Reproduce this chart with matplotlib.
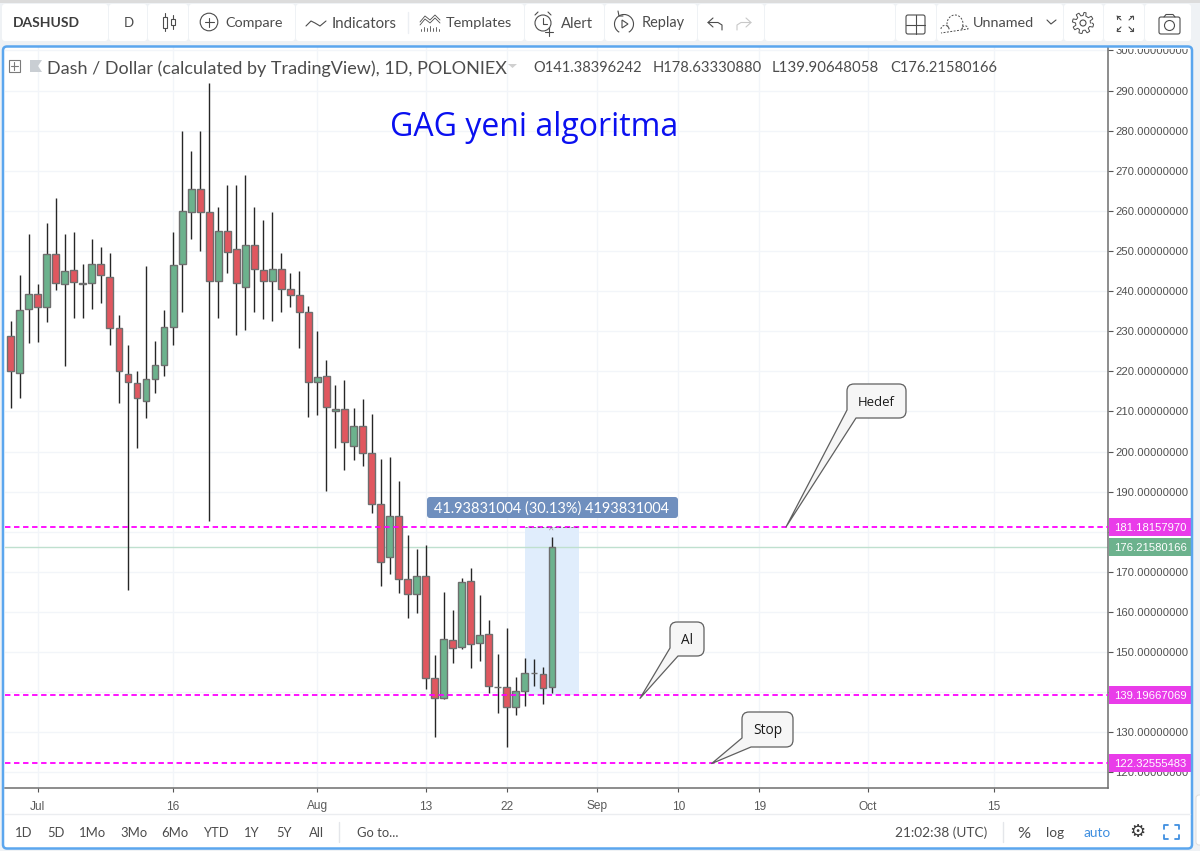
import matplotlib
matplotlib.use("Agg")
import matplotlib.pyplot as plt
import numpy as np
from matplotlib.patches import Rectangle, FancyBboxPatch, Circle, PathPatch, Polygon, Arc
from matplotlib.path import Path

# ---------- data ----------
first_day = -3   # days relative to 1 Jul
opens = [228.8,219.6,235.6,239.3,236.1,249.2,241.7,245.3,241.7,241.9,246.7,243.5,230.7,219.4,217.2,212.5,218.1,221.7,231.1,246.7,
         259.7,265.5,259.7,242.4,255.0,250.5,241.1,251.6,245.3,242.4,245.6,240.6,239.0,234.9,217.3,218.8,210.0,210.5,201.5,206.3,
         199.7,187.0,173.8,183.9,168.2,164.55,169.0,143.6,138.6,153.0,151.2,167.7,152.2,154.6,141.4,141.4,136.2,140.2,144.8,144.6,141.38]
highs = [232.5,244.1,254.3,241.7,256.9,263.3,254.3,254.8,246.8,253.0,250.9,249.6,234.1,226.5,220.2,246.3,227.5,235.2,254.8,279.8,
         274.9,279.8,291.8,261.0,266.4,266.4,269.0,260.9,257.7,259.8,249.4,244.4,244.9,236.3,230.0,222.8,216.7,217.8,210.8,213.2,
         209.3,198.1,198.7,192.6,179.2,175.6,176.7,149.2,164.9,160.5,168.5,170.9,164.3,158.0,149.4,155.9,143.8,148.6,148.3,146.2,178.63]
lows = [210.9,213.25,227.0,227.4,232.2,240.3,221.4,233.2,233.4,235.6,237.1,226.6,212.0,165.5,200.9,208.3,214.5,218.8,226.6,234.8,
        252.9,249.9,182.7,233.4,244.4,229.0,230.3,234.8,233.0,232.6,234.7,236.1,225.9,208.5,209.1,190.2,201.0,195.4,198.0,196.5,
        184.7,166.4,169.4,164.6,158.4,159.8,140.9,128.9,138.3,147.2,150.7,145.9,147.7,139.8,134.7,126.2,134.3,136.6,141.6,137.0,139.91]
closes = [220.1,235.4,239.3,236.1,249.2,241.9,245.1,242.3,241.9,246.7,244.0,230.7,220.1,217.4,213.25,218.1,221.7,231.1,246.4,260.0,
          265.5,259.7,242.4,255.0,249.8,241.9,251.6,245.4,242.4,245.6,240.6,239.0,234.9,217.3,218.5,211.0,210.5,202.3,206.3,199.7,
          186.9,172.4,183.9,168.2,164.5,169.0,143.6,138.6,153.2,150.9,167.5,152.0,154.3,141.5,141.2,136.2,140.2,144.8,144.9,141.1,176.22]
price_ticks = list(range(120, 301, 10))
hidden_tick_labels = [140, 180]   # covered by the price tags in the reference
date_tick_days = [0, 15, 31, 43, 52, 62, 71, 80, 92, 106]
date_tick_labels = ["Jul", "16", "Aug", "13", "22", "Sep", "10", "19", "Oct", "15"]
level_prices = [181.18157970, 139.19667069, 122.32555483]
last_price = 176.21580166
range_days = [54, 60]
range_prices = [139.19667069, 181.18157970]

RED, GREEN, EDGE = "#e0575f", "#6cb28d", "#6e6e6e"
MAG = "#ff00ff"
TXT = "#4c4c4c"
SANS = "Lato"
AXF = "Liberation Sans"

W, H = 1200, 851
fig = plt.figure(figsize=(W/100, H/100), dpi=100)
fig.patch.set_facecolor("#eff2f5")

# ---------- background ----------
bg = fig.add_axes([0, 0, 1, 1], zorder=0)
bg.set_xlim(0, W); bg.set_ylim(H, 0); bg.axis("off")
bg.add_patch(FancyBboxPatch((4, 47), 1187, 801, boxstyle="round,pad=0,rounding_size=4", fc="white", ec="none"))

# ---------- price chart ----------
ax = fig.add_axes([5/W, 1-788/H, 1103/W, 741/H], zorder=1)
ax.set_facecolor("none")
ax.set_xlim(-3.63, 118.63)
ax.set_ylim(116.1, 300.87)
days = np.arange(first_day, first_day + len(opens))
o, h, l, c = map(np.array, (opens, highs, lows, closes))
up = c >= o
ax.vlines(days, l, h, color="#262626", lw=1.0, zorder=3)
ax.bar(days, np.abs(c-o), bottom=np.minimum(o, c), width=0.76,
       color=np.where(up, GREEN, RED), edgecolor=EDGE, linewidth=1.0, zorder=4)
ax.axvspan(range_days[0], range_days[1], ymin=(range_prices[0]-116.1)/184.77, ymax=(range_prices[1]-116.1)/184.77,
           facecolor="#e0edfc", edgecolor="none", zorder=1)
ax.axhline(last_price, color="#bfe0cf", lw=1.0, zorder=2)
for p in level_prices:
    ax.axhline(p, color=MAG, lw=1.3, dashes=(3, 2), zorder=5)
ax.set_yticks(price_ticks)
ax.set_yticklabels(["" if t in hidden_tick_labels else f"{t:.8f}" for t in price_ticks],
                   fontfamily=AXF, fontsize=8.1, color="#505050")
ax.set_xticks(date_tick_days)
ax.set_xticklabels(date_tick_labels, fontfamily=AXF, fontsize=8.6, color="#5a5a5a")
ax.yaxis.tick_right()
ax.tick_params(axis="y", length=3.5, width=0.8, color="#555555", pad=1.8)
ax.tick_params(axis="x", length=3, width=0.8, color="#555555", pad=6)
ax.grid(True, color="#f2f5f9", lw=1.0, zorder=0)
ax.set_axisbelow(True)
for s in ("top", "left"):
    ax.spines[s].set_visible(False)
for s in ("right", "bottom"):
    ax.spines[s].set_color("#6e6e6e"); ax.spines[s].set_linewidth(1.1)

# ---------- overlay (pixel coordinates) ----------
ov = fig.add_axes([0, 0, 1, 1], zorder=2)
ov.set_xlim(0, W); ov.set_ylim(H, 0); ov.axis("off"); ov.patch.set_alpha(0)
fig.canvas.draw()
rend = fig.canvas.get_renderer()

def yp(price):
    return H - ax.transData.transform((0, price))[1]
def xp(day):
    return ax.transData.transform((day, 0))[0]

def fit(x0, x1, yc, s, color=TXT, family=SANS, weight="normal"):
    t = ov.text(x0, yc, s, ha="left", va="center_baseline", color=color, family=family, weight=weight, fontsize=10)
    w = t.get_window_extent(rend).width
    t.set_fontsize(10*(x1-x0)/w)
    return t

def line(xs, ys, color=TXT, lw=0.8, **kw):
    ov.plot(xs, ys, color=color, lw=lw, solid_capstyle="round", **kw)

# toolbar
ov.add_patch(Rectangle((0, 0), W, 46, fc="#eff2f5", ec="none"))
ov.add_patch(Rectangle((0, 0), W, 2.5, fc="#dcdcdc", ec="none"))
ov.add_patch(Rectangle((1109, 46), 81, 2.5, fc="white", ec="none"))
cells = [(2,108),(109,147),(148,188),(189,295),(296,524),(525,604),(605,697),(698,764),(765,895),(896,936),(937,1063),(1064,1103),(1104,1144),(1145,1191)]
for a, b in cells:
    ov.add_patch(FancyBboxPatch((a, 4), b-a, 37, boxstyle="round,pad=0,rounding_size=3", fc="white", ec="none"))
line([408, 408], [12, 33], color="#eceff3", lw=1)

fit(13, 80, 22, "DASHUSD", weight="bold", color="#3d3d3d")
fit(124, 134, 22, "D")
# candle icon
for cx, t0, t1, b0, b1 in ((165, 13, 31, 17, 28), (173, 15, 29, 19, 25)):
    line([cx, cx], [t0, b0]); line([cx, cx], [b1, t1])
    ov.add_patch(Rectangle((cx-2, b0), 4, b1-b0, fc="none", ec=TXT, lw=0.8))
# compare
ov.add_patch(Circle((209, 22), 8.8, fc="none", ec=TXT, lw=0.8))
line([204.5, 213.5], [22, 22]); line([209, 209], [17.5, 26.5])
fit(225, 283, 22, "Compare")
# indicators
line([306, 311, 315, 320, 326], [26, 21, 23, 26, 21])
fit(332, 397, 22, "Indicators")
# templates
line([420, 425, 430, 435, 440], [22, 16, 20, 15, 20], lw=0.6)
line([420, 425, 430, 435, 440], [25, 19, 23, 18, 23], lw=0.6)
for i, hh in enumerate([2, 4, 3, 5, 3, 4, 2]):
    line([421+i*3, 421+i*3], [31-hh, 31], lw=0.6)
fit(446, 512, 22, "Templates")
# alert
ov.add_patch(Circle((543, 23), 8, fc="none", ec=TXT, lw=0.8))
line([543, 543, 547], [18, 24, 24]); line([549, 549], [27, 36]); line([545, 553], [31.5, 31.5])
line([535, 538], [15, 12]); line([548, 551], [12, 15])
fit(561, 593, 22, "Alert")
# replay
ov.add_patch(Arc((624, 24), 19, 19, theta1=-240, theta2=60, ec=TXT, lw=0.8))
line([618, 619, 623], [11, 16, 16]); ov.add_patch(Polygon([(622, 20), (622, 28), (628, 24)], fc="none", ec=TXT, lw=0.8))
fit(642, 685, 22, "Replay")
# undo / redo
line([713, 708, 713], [18, 22.5, 27]); line([708, 718, 722, 722], [22.5, 22.5, 25, 30])
line([746, 751, 746], [18, 22.5, 27], color="#c8c8c8"); line([751, 741, 737, 737], [22.5, 22.5, 25, 30], color="#c8c8c8")
# layout
ov.add_patch(FancyBboxPatch((906, 15), 19, 19, boxstyle="round,pad=0,rounding_size=2", fc="none", ec=TXT, lw=0.8))
line([915.5, 915.5], [15, 34]); line([906, 925], [24.5, 24.5])
# cloud
th = np.linspace(np.pi, 0, 40)
cx_ = np.r_[944+4*np.cos(th)+1, 955+8*np.cos(th), 965+3*np.cos(th)]
cy_ = np.r_[29+4*np.sin(-th)*0.9, 24+9*np.sin(-th), 29+4*np.sin(-th)*0.8]
ov.plot(np.r_[cx_, cx_[0]], np.r_[cy_, 33], color=TXT, lw=0.7, ls=(0, (2, 1.5)))
fit(973, 1034, 22, "Unnamed")
line([1047, 1051, 1056], [20, 24, 20])
# gear
ang = np.linspace(0, 2*np.pi, 65)
rad = 9 + 1.6*np.sign(np.sin(8*ang))
ov.plot(1083+rad*np.cos(ang), 23+rad*np.sin(ang), color=TXT, lw=0.7)
ov.add_patch(Circle((1083, 23), 3, fc="none", ec=TXT, lw=0.8))
# fullscreen
for (x, y, dx, dy) in ((1117, 16, 1, 1), (1133, 16, -1, 1), (1117, 31, 1, -1), (1133, 31, -1, -1)):
    line([x+dx*4, x], [y+dy*4, y], lw=0.8)
    line([x+dx*3, x, x], [y, y, y+dy*3], lw=0.8)
# camera
ov.add_patch(FancyBboxPatch((1159, 17), 21, 17, boxstyle="round,pad=0,rounding_size=2", fc="none", ec=TXT, lw=0.8))
ov.add_patch(Circle((1169.5, 25.5), 5, fc="none", ec=TXT, lw=0.8))
line([1164, 1166, 1173, 1175], [17, 14.5, 14.5, 17])

# legend row
ov.add_patch(Rectangle((8.5, 60), 11, 11.5, fc="none", ec="#7a7a7a", lw=0.8))
line([10.5, 17.5], [65.7, 65.7], color="#7a7a7a"); line([14, 14], [62, 69.5], color="#7a7a7a")
ov.add_patch(Polygon([(30, 60), (42, 60), (38, 66), (42, 72), (30, 72)], fc="#c9ced3", ec="none"))
fit(47, 504, 67, "Dash / Dollar (calculated by TradingView), 1D, POLONIEX")
ov.add_patch(Polygon([(508, 64), (517, 64), (512.5, 68)], fc="#d0d0d0", ec="none"))
for x0, x1, s in ((533, 642, "O141.38396242"), (653, 761.5, "H178.63330880"), (772, 878.6, "L139.90648058"), (890, 997, "C176.21580166")):
    fit(x0, x1, 67, s)

# title
fit(390, 678, 123, "GAG yeni algoritma", color="#0a10f0", family="Open Sans")

# measure label
ov.add_patch(FancyBboxPatch((427, 497), 251, 21, boxstyle="round,pad=0,rounding_size=3", fc="#6f8fbe", ec="none"))
fit(434, 670, 507.5, "41.93831004 (30.13%) 4193831004", color="white")
ov.plot([xp(range_days[0]), xp(range_days[1])], [yp(range_prices[1])]*2, color="#555555", lw=0.5, ls=(0, (3, 3)))
line([549.5, 551], [530, 528], color="#999999", lw=0.5); line([551.5, 553], [528, 530], color="#999999", lw=0.5)

# callouts
def callout(x0, x1, y0, y1, b0, b1, tip, label, tx0, tx1, ty):
    r = 7
    verts = [(x0+r, y0), (x1-r, y0), (x1, y0), (x1, y0+r), (x1, y1-r), (x1, y1), (x1-r, y1),
             b1, tip, b0, (x0, y0+r), (x0, y0), (x0+r, y0)]
    codes = [Path.MOVETO, Path.LINETO, Path.CURVE3, Path.CURVE3, Path.LINETO, Path.CURVE3, Path.CURVE3,
             Path.LINETO, Path.LINETO, Path.LINETO, Path.LINETO, Path.CURVE3, Path.CURVE3]
    ov.add_patch(PathPatch(Path(verts, codes), fc="#f6f6f6", ec="#5f5f5f", lw=0.9, joinstyle="round"))
    fit(tx0, tx1, ty, label, color="#1a1a1a", family="Open Sans")

callout(847, 906, 384, 418, (847, 410), (856, 418), (786, yp(level_prices[0])), "Hedef", 858, 895, 400.5)
callout(670, 704, 622, 656, (670, 648), (678, 656), (640, yp(level_prices[1])+3), "Al", 681, 693, 638.5)
callout(742, 793, 712, 747, (742, 738), (751, 747), (711.7, yp(level_prices[2])+0.5), "Stop", 753, 782, 729)

# price labels
for p in level_prices + [last_price]:
    col = "#e93ce9" if p != last_price else "#6cb28d"
    y = yp(p)
    ov.add_patch(Rectangle((1108.5, y-9), 82, 18, fc=col, ec="none"))
    ov.text(1114, y, f"{p:.8f}", color="white", family=AXF, fontsize=8.1, va="center_baseline", ha="left")

# bottom bar
line([5, 1190], [814, 814], color="#ebedf0", lw=1)
for xc, s in ((23.5, "1D"), (55.5, "5D"), (92.5, "1Mo"), (133.5, "3Mo"), (174.5, "6Mo"), (215.5, "YTD"),
              (252, "1Y"), (284, "5Y"), (316, "All"), (378, "Go to...")):
    ov.text(xc, 832, s, ha="center", va="center_baseline", color=TXT, family=SANS, fontsize=9.4)
line([339, 339], [822, 842], color="#e4e6ea", lw=1)
fit(895, 987, 832, "21:02:38 (UTC)")
line([1003, 1003], [822, 842], color="#e4e6ea", lw=1)
fit(1017, 1030, 832, "%")
fit(1046, 1064, 832, "log")
fit(1083, 1110, 832, "auto", color="#3f8fe0")
ov.text(1137, 832, "\u2699", family="DejaVu Sans", fontsize=13, color="#3a3a3a", ha="center", va="center")
for (x, y, dx, dy) in ((1164, 825, 1, 1), (1179, 825, -1, 1), (1164, 839, 1, -1), (1179, 839, -1, -1)):
    line([x+dx*4, x, x], [y, y, y+dy*4], color="#3f8fe0", lw=1.3)

# panel border
ov.add_patch(FancyBboxPatch((3, 46.5), 1189, 802, boxstyle="round,pad=0,rounding_size=4", fc="none", ec="#5ba6ee", lw=1.8))
ov.add_patch(FancyBboxPatch((1196, 795), 10, 50, boxstyle="round,pad=0,rounding_size=3", fc="white", ec="#dddddd", lw=0.7))

fig.savefig("out.png", dpi=100)
